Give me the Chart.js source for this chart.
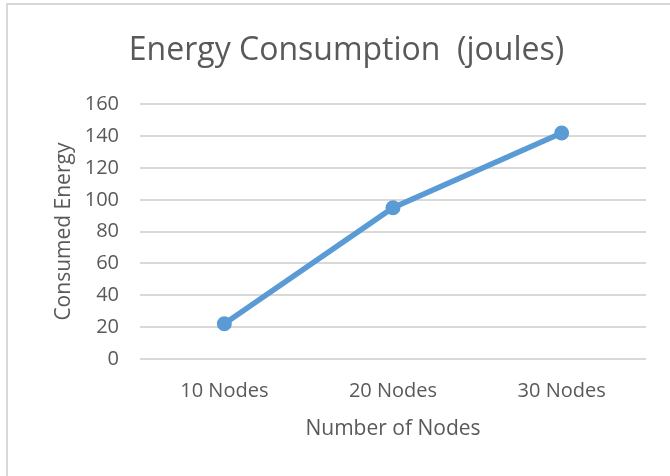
<!DOCTYPE html>
<html>
<head>
<meta charset="utf-8">
<script src="https://cdn.jsdelivr.net/npm/chart.js@4"></script>
<style>
  html, body { margin: 0; padding: 0; background: #fff; }
  #wrap { position: relative; width: 670px; height: 476px; overflow: hidden; }
  #marco { position: absolute; left: 6px; top: 3px; width: 700px; height: 500px;
           border-top: 2px solid #d9d9d9; border-left: 2px solid #d9d9d9; pointer-events: none; }
  canvas { position: absolute; left: 0; top: 0; }
</style>
</head>
<body>
<div id="wrap">
  <canvas id="grafico" width="670" height="476"></canvas>
  <div id="marco"></div>
</div>
<script>
// Datos
const categorias = ['10 Nodes', '20 Nodes', '30 Nodes'];
const energia = [22, 95, 142];
const ticksY = [0, 20, 40, 60, 80, 100, 120, 140, 160];

const gris = '#595959';
const fuente = '"Open Sans", "Noto Sans", sans-serif';

const ctx = document.getElementById('grafico').getContext('2d');
new Chart(ctx, {
  type: 'line',
  data: {
    labels: categorias,
    datasets: [{
      data: energia,
      borderColor: '#5b9bd5',
      backgroundColor: '#5b9bd5',
      borderWidth: 5.5,
      pointRadius: 7.5,
      pointBorderWidth: 0,
      tension: 0
    }]
  },
  options: {
    responsive: false,
    animation: false,
    layout: { padding: { left: 47, right: 24, top: 22, bottom: 34 } },
    plugins: {
      legend: { display: false },
      tooltip: { enabled: false },
      title: {
        display: true,
        text: 'Energy Consumption  (joules)',
        color: gris,
        font: { family: fuente, size: 32, weight: 'normal' },
        padding: { top: 10, bottom: 34 }
      }
    },
    scales: {
      x: {
        offset: true,
        grid: { display: false },
        border: { display: false },
        ticks: { color: gris, font: { family: fuente, size: 20 }, padding: 12 },
        title: {
          display: true,
          text: 'Number of Nodes',
          color: gris,
          font: { family: fuente, size: 21 },
          padding: { top: 2, bottom: 0 }
        }
      },
      y: {
        min: 0,
        max: 160,
        afterBuildTicks: (eje) => { eje.ticks = ticksY.map(v => ({ value: v })); },
        afterFit: (eje) => { eje.width = 93; },
        grid: { color: '#d9d9d9', lineWidth: 2, drawTicks: false },
        border: { display: false },
        ticks: { color: gris, font: { family: fuente, size: 20 }, padding: 21 },
        title: {
          display: true,
          text: 'Consumed Energy',
          color: gris,
          font: { family: fuente, size: 21 },
          padding: { top: 4, bottom: 0 }
        }
      }
    }
  }
});
</script>
</body>
</html>
